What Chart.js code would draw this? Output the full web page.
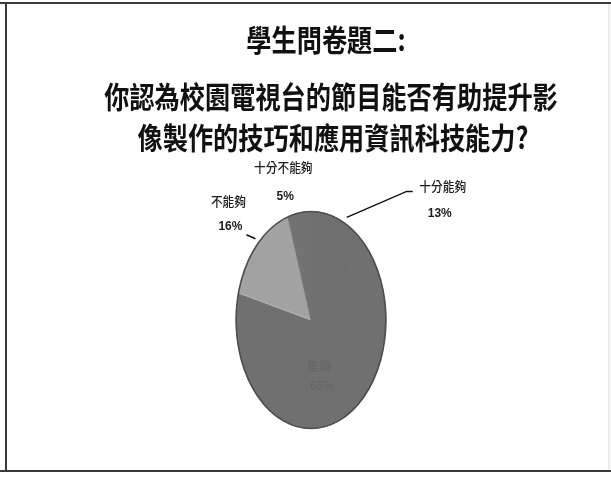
<!DOCTYPE html>
<html>
<head>
<meta charset="utf-8">
<script src="https://cdn.jsdelivr.net/npm/chart.js@4.4.0/dist/chart.umd.min.js"></script>
<style>
html,body{margin:0;padding:0;background:#fff;}
#wrap{width:611px;height:477px;}
</style>
</head>
<body>
<div id="wrap"><canvas id="c" width="611" height="477"></canvas></div>
<script>
const titleLines = ['學生問卷題二:', '你認為校園電視台的節目能否有助提升影', '像製作的技巧和應用資訊科技能力?'];
const categories = ['十分能夠', '能夠', '不能夠', '十分不能夠'];
const percentValues = [13, 66, 16, 5];
const sliceColors = ['#6f6f6f', '#707070', '#a2a2a2', '#727272'];
const sliceBorders = ['#6f6f6f', '#707070', '#bdbdbd', '#727272'];

// label layout (offsets from the slice's outer-edge midpoint), style only
const labelLayout = [
  {name:[102,-34], pct:[99,-7], leader:[[6,-3],[66,-29],[72,-29]]},
  {inside:0.40},
  {name:[-28,-45], pct:[-26,-19], leader:[[-10,-11],[-1,-7]]},
  {name:[-16,-46], pct:[-14,-16]}
];
const SX = 0.69; // horizontal squash of the pie (elliptical view)

const ellipsePlugin = {
  id:'ellipse',
  beforeDatasetsDraw(chart){
    const a = chart.getDatasetMeta(0).data[0];
    const ctx = chart.ctx;
    ctx.save();
    ctx.translate(a.x, a.y); ctx.scale(SX, 1); ctx.translate(-a.x, -a.y);
  },
  afterDatasetsDraw(chart){
    const a = chart.getDatasetMeta(0).data[0];
    const ctx = chart.ctx;
    ctx.restore();
    ctx.save();
    ctx.strokeStyle='#4e4e4e'; ctx.lineWidth=1.6;
    ctx.beginPath();
    ctx.ellipse(a.x, a.y, a.outerRadius*SX, a.outerRadius, 0, 0, Math.PI*2);
    ctx.stroke();
    ctx.restore();
  }
};

const decoPlugin = {
  id:'deco',
  beforeDraw(chart){
    const ctx = chart.ctx;
    ctx.save();
    ctx.fillStyle='#fff'; ctx.fillRect(0,0,chart.width,chart.height);
    // frame
    ctx.strokeStyle='#3a3a3a'; ctx.lineWidth=2;
    ctx.beginPath(); ctx.moveTo(0,3); ctx.lineTo(611,3); ctx.stroke();
    ctx.beginPath(); ctx.moveTo(0,471); ctx.lineTo(611,471); ctx.stroke();
    ctx.beginPath(); ctx.moveTo(6,4); ctx.lineTo(6,470); ctx.stroke();
    ctx.strokeStyle='#d8d8d8'; ctx.lineWidth=1;
    ctx.beginPath(); ctx.moveTo(609,4); ctx.lineTo(609,470); ctx.stroke();
    // title
    ctx.fillStyle='#111';
    ctx.textAlign='center'; ctx.textBaseline='middle';
    ctx.font='bold 30px "Noto Sans CJK TC"';
    const ys=[40,97,138], cxs=[326,331,333];
    titleLines.forEach((t,i)=>{
      ctx.save(); ctx.translate(cxs[i], ys[i]); ctx.scale(0.84,1);
      ctx.fillText(t,0,0); ctx.restore();
    });
    ctx.restore();
  },
  afterDraw(chart){
    const ctx = chart.ctx;
    const meta = chart.getDatasetMeta(0);
    ctx.save();
    ctx.textAlign='center'; ctx.textBaseline='middle';
    meta.data.forEach((arc,i)=>{
      const L = labelLayout[i];
      const mid = (arc.startAngle+arc.endAngle)/2;
      const rx = arc.outerRadius*SX, ry = arc.outerRadius;
      const pct = percentValues[i]+'%';
      if (L.inside){
        const px = arc.x + Math.cos(mid)*rx*L.inside*1.1;
        const py = arc.y + Math.sin(mid)*ry*L.inside*1.1;
        ctx.fillStyle='#646464';
        ctx.font='12px "Noto Sans CJK TC"';
        ctx.fillText(categories[i], px, py);
        ctx.fillText(pct, px+3, py+19);
        return;
      }
      const ex = arc.x + Math.cos(mid)*rx, ey = arc.y + Math.sin(mid)*ry;
      ctx.fillStyle='#1a1a1a';
      ctx.font='500 13px "Noto Sans CJK TC"';
      ctx.save(); ctx.translate(ex+L.name[0], ey+L.name[1]); ctx.scale(0.9,1);
      ctx.fillText(categories[i],0,0); ctx.restore();
      ctx.font='bold 12px "Liberation Sans"';
      ctx.fillText(pct, ex+L.pct[0], ey+L.pct[1]);
      if (L.leader){
        ctx.strokeStyle='#111'; ctx.lineWidth=1.5;
        ctx.beginPath();
        L.leader.forEach((p,k)=>{ const fn=k?'lineTo':'moveTo'; ctx[fn](ex+p[0], ey+p[1]); });
        ctx.stroke();
      }
    });
    ctx.restore();
  }
};

new Chart(document.getElementById('c'), {
  type:'pie',
  data:{
    labels: categories,
    datasets:[{
      data: percentValues,
      backgroundColor: sliceColors,
      borderColor: sliceBorders,
      borderWidth: 1
    }]
  },
  options:{
    responsive:false,
    animation:false,
    layout:{padding:{top:211, bottom:48, left:11, right:0}},
    plugins:{legend:{display:false}, title:{display:false}, tooltip:{enabled:false}}
  },
  plugins:[decoPlugin, ellipsePlugin]
});
</script>
</body>
</html>
